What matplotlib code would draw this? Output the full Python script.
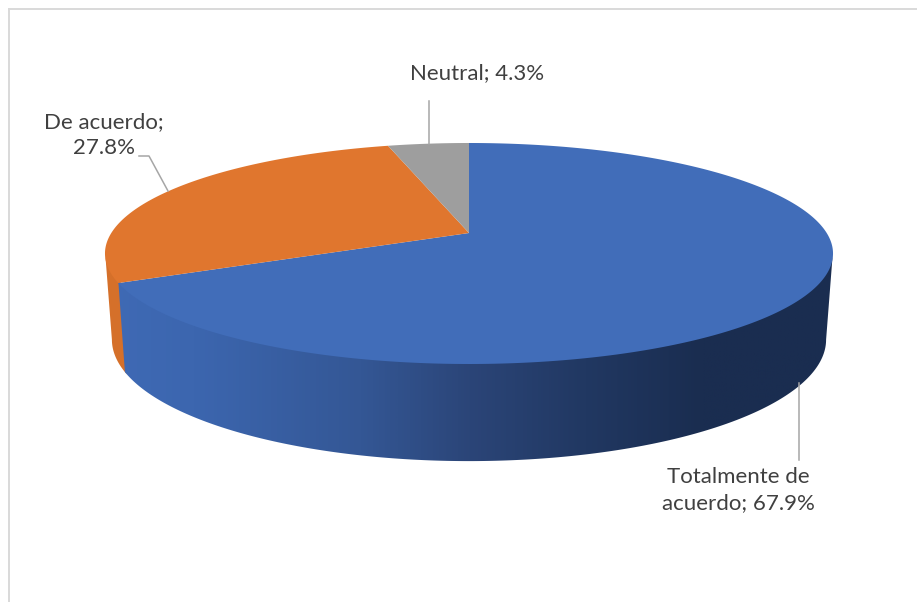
import numpy as np
import matplotlib
matplotlib.use("Agg")
import matplotlib.pyplot as plt
from matplotlib.colors import LinearSegmentedColormap
from matplotlib.patches import Polygon

# data, clockwise from 12 o'clock
labels = ["Totalmente de\nacuerdo", "De acuerdo;\n", "Neutral"]
values = [67.9, 27.8, 4.3]
colors = ["#416DB9", "#E0762E", "#9E9E9E"]

# pie geometry in pixels (perspective ellipse)
cx, cy = 469, 233
rx, ry = 357.7, 106.7
persp = 0.1855
bottom_scale = 0.981
bottom_k, bottom_d = 1.1, 84
edge_angle = np.degrees(np.arcsin(persp))

plt.rcParams["font.family"] = ["Lato", "DejaVu Sans"]


def top_xy(deg):
    t = np.radians(deg)
    w = 1 + persp * np.sin(t)
    return cx + rx * np.cos(t) / w, cy - ry * np.sin(t) / w


def bottom_xy(deg):
    x, y = top_xy(deg)
    return cx + (x - cx) * bottom_scale, cy + (y - cy) * bottom_k + bottom_d


def side_poly(a, b):
    deg = np.linspace(a, b, 200)
    x1, y1 = top_xy(deg)
    x2, y2 = bottom_xy(deg)
    # top edge goes a little under the top face so no white seam shows
    return np.column_stack([np.r_[x1, x2[::-1]], np.r_[y1 - 3, y2[::-1]]])


fig = plt.figure(figsize=(9.17, 6.02), dpi=100)
ax = fig.add_axes([0, 0, 1, 1])

# frame of the chart area, only top and left show
ax.plot([9, 9], [602, 9], color="#D9D9D9", lw=1.4)
ax.plot([9, 917], [9, 9], color="#D9D9D9", lw=1.4)

# angles of the slices
stops = 90 - np.cumsum([0] + values) * 3.6

# orange wall first, the blue wall overlaps its edge
ax.fill(*side_poly(stops[1] + 1, -180 + edge_angle).T, color="#D5702A", lw=0, zorder=1)

side_cmap = LinearSegmentedColormap.from_list(
    "side", [(0, "#3F6AB5"), (0.12, "#3C66AF"), (0.35, "#345795"), (0.5, "#2B4578"),
             (0.66, "#213862"), (0.82, "#1A2D50"), (1, "#1A2D50")])
blue_wall = Polygon(side_poly(-edge_angle, stops[1]), transform=ax.transData, fc="none", ec="none")
ax.add_patch(blue_wall)
img = ax.imshow(np.linspace(0, 1, 512).reshape(1, -1), cmap=side_cmap, aspect="auto",
                extent=[106, 833, 470, 240], zorder=1.5)
img.set_clip_path(blue_wall)

# top face
for i in range(len(values)):
    deg = np.linspace(stops[i], stops[i + 1], 300)
    x, y = top_xy(deg)
    ax.fill(np.r_[cx, x], np.r_[cy, y], color=colors[i], lw=0, zorder=2)

# leader lines
leader = dict(color="#A6A6A6", lw=1.1, zorder=3)
ax.plot([799, 799], [383, 460], **leader)
ax.plot([139, 149, 168], [156, 156, 191], **leader)
ax.plot([429, 429], [101, 144], **leader)

# labels
txt = dict(color="#404040", fontsize=16, ha="center", va="center", linespacing=1.42)
ax.text(738, 490, f"{labels[0]}; {values[0]}%", **txt)
ax.text(104, 135, f"{labels[1]}{values[1]}%", **txt)
ax.text(477, 73, f"{labels[2]}; {values[2]}%", **txt)

ax.set_xlim(0, 917)
ax.set_ylim(602, 0)
ax.axis("off")
fig.savefig("out.png", dpi=100, facecolor="white")
